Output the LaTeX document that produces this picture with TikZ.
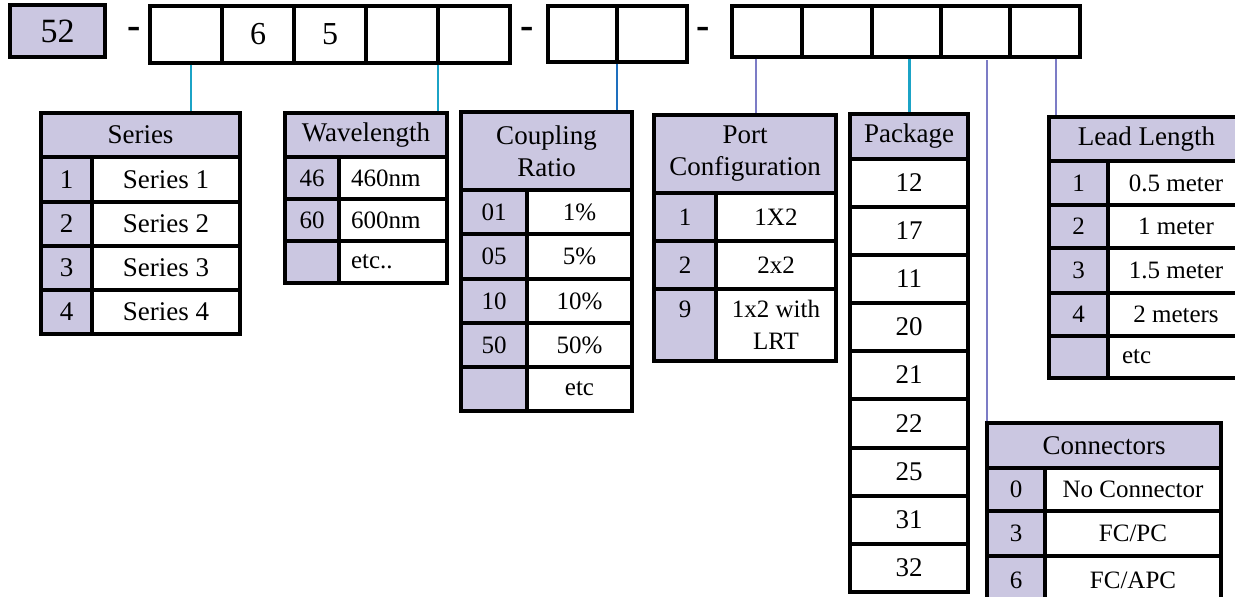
\documentclass[tikz,border=0pt]{standalone}
\usepackage{fontspec}
\setmainfont{Liberation Serif}
\definecolor{lav}{HTML}{CBC7E1}
\definecolor{tealc}{HTML}{1BA3C6}
\definecolor{bluec}{HTML}{1E6FBE}
\definecolor{purc}{HTML}{7C7CC6}
\tikzset{
 basec/.style={draw=black, line width=3.2pt, inner sep=0pt, outer sep=0pt, align=center, text=black},
 hdr/.style={basec, fill=lav, font=\fontsize{27}{32}\selectfont},
 keyc/.style={basec, fill=lav, font=\fontsize{25}{32}\selectfont},
 valc/.style={basec, fill=white, font=\fontsize{25}{32}\selectfont},
 keybig/.style={keyc, font=\fontsize{27}{32}\selectfont},
 valbig/.style={valc, font=\fontsize{27}{32}\selectfont},
 topc/.style={basec, fill=white, font=\fontsize{32}{36}\selectfont},
 topk/.style={topc, fill=lav, font=\fontsize{34}{38}\selectfont},
 dashtxt/.style={inner sep=0pt, outer sep=0pt, font=\fontsize{40}{44}\selectfont\bfseries, anchor=base},
 link/.style={line width=2.6pt, shorten <=1.6pt, shorten >=1.6pt},
}
\newcommand\mkcell[7]{\node[#1, minimum width={(#5)-(#3)}, minimum height={(#6)-(#4)}] (#2) at ({((#3)+(#5))/2},{((#4)+(#6))/2}) {#7};}
\begin{document}
\begin{tikzpicture}[x=1pt,y=-1pt]
\useasboundingbox (0,0) rectangle (1235,597);
\fill[white] (0,0) rectangle (1235,597);
\clip (0,0) rectangle (1235,597);

% top row
\mkcell{topk}{t52}{10}{5}{105}{57}{52}
\node[dashtxt] (d1) at (134,38) {-};
\mkcell{topc}{g1a}{150}{6}{222}{63}{}
\mkcell{topc}{g1b}{222}{6}{294}{63}{6}
\mkcell{topc}{g1c}{294}{6}{366}{63}{5}
\mkcell{topc}{g1d}{366}{6}{438}{63}{}
\mkcell{topc}{g1e}{438}{6}{510}{63}{}
\node[dashtxt] (d2) at (527,38) {-};
\mkcell{topc}{g2a}{548}{6}{617}{62}{}
\mkcell{topc}{g2b}{617}{6}{687}{62}{}
\node[dashtxt] (d3) at (703,38) {-};
\mkcell{topc}{g3a}{732}{6}{802}{57}{}
\mkcell{topc}{g3b}{802}{6}{872}{57}{}
\mkcell{topc}{g3c}{872}{6}{941}{57}{}
\mkcell{topc}{g3d}{941}{6}{1010}{57}{}
\mkcell{topc}{g3e}{1010}{6}{1080}{57}{}

% Series
\mkcell{hdr}{serh}{41}{113}{240}{157}{Series}
\mkcell{keybig}{serk1}{41}{157}{92}{202}{1}
\mkcell{valbig}{serv1}{92}{157}{240}{202}{Series 1}
\mkcell{keybig}{serk2}{41}{202}{92}{246}{2}
\mkcell{valbig}{serv2}{92}{202}{240}{246}{Series 2}
\mkcell{keybig}{serk3}{41}{246}{92}{290}{3}
\mkcell{valbig}{serv3}{92}{246}{240}{290}{Series 3}
\mkcell{keybig}{serk4}{41}{290}{92}{334}{4}
\mkcell{valbig}{serv4}{92}{290}{240}{334}{Series 4}

% Wavelength
\mkcell{hdr}{wvh}{285}{113}{447}{157}{Wavelength}
\mkcell{keyc}{wvk1}{285}{157}{339}{199}{46}
\mkcell{valc}{wvv1}{339}{157}{447}{199}{\makebox[100pt][l]{\hspace*{8pt}460nm}}
\mkcell{keyc}{wvk2}{285}{199}{339}{241}{60}
\mkcell{valc}{wvv2}{339}{199}{447}{241}{\makebox[100pt][l]{\hspace*{8pt}600nm}}
\mkcell{keyc}{wvk3}{285}{241}{339}{283}{}
\mkcell{valc}{wvv3}{339}{241}{447}{283}{\makebox[100pt][l]{\hspace*{8pt}etc..}}

% Coupling Ratio
\mkcell{hdr}{cph}{461}{112}{632}{190}{Coupling\\Ratio}
\mkcell{keyc}{cpk1}{461}{190}{527}{234}{01}
\mkcell{valc}{cpv1}{527}{190}{632}{234}{1\%}
\mkcell{keyc}{cpk2}{461}{234}{527}{279}{05}
\mkcell{valc}{cpv2}{527}{234}{632}{279}{5\%}
\mkcell{keyc}{cpk3}{461}{279}{527}{323}{10}
\mkcell{valc}{cpv3}{527}{279}{632}{323}{10\%}
\mkcell{keyc}{cpk4}{461}{323}{527}{367}{50}
\mkcell{valc}{cpv4}{527}{323}{632}{367}{50\%}
\mkcell{keyc}{cpk5}{461}{367}{527}{411}{}
\mkcell{valc}{cpv5}{527}{367}{632}{411}{etc}

% Port Configuration
\mkcell{hdr}{pth}{654}{115}{836}{193}{Port\\Configuration}
\mkcell{keyc}{ptk1}{654}{193}{716}{241}{1}
\mkcell{valc}{ptv1}{716}{193}{836}{241}{1X2}
\mkcell{keyc}{ptk2}{654}{241}{716}{289}{2}
\mkcell{valc}{ptv2}{716}{241}{836}{289}{2x2}
\mkcell{keyc}{ptk3}{654}{289}{716}{361}{9\\\phantom{LRT}}
\mkcell{valc}{ptv3}{716}{289}{836}{361}{1x2 with\\LRT}

% Package
\mkcell{hdr}{pkh}{850}{114}{968}{159}{Package}
\mkcell{valbig}{pk1}{850}{159}{968}{207}{12}
\mkcell{valbig}{pk2}{850}{207}{968}{255}{17}
\mkcell{valbig}{pk3}{850}{255}{968}{303}{11}
\mkcell{valbig}{pk4}{850}{303}{968}{351}{20}
\mkcell{valbig}{pk5}{850}{351}{968}{399}{21}
\mkcell{valbig}{pk6}{850}{399}{968}{448}{22}
\mkcell{valbig}{pk7}{850}{448}{968}{496}{25}
\mkcell{valbig}{pk8}{850}{496}{968}{544}{31}
\mkcell{valbig}{pk9}{850}{544}{968}{592}{32}

% Lead Length
\mkcell{hdr}{ldh}{1049}{117}{1244}{161}{Lead Length}
\mkcell{keyc}{ldk1}{1049}{161}{1108}{205}{1}
\mkcell{valc}{ldv1}{1108}{161}{1244}{205}{0.5 meter}
\mkcell{keyc}{ldk2}{1049}{205}{1108}{248}{2}
\mkcell{valc}{ldv2}{1108}{205}{1244}{248}{1 meter}
\mkcell{keyc}{ldk3}{1049}{248}{1108}{293}{3}
\mkcell{valc}{ldv3}{1108}{248}{1244}{293}{1.5 meter}
\mkcell{keyc}{ldk4}{1049}{293}{1108}{336}{4}
\mkcell{valc}{ldv4}{1108}{293}{1244}{336}{2 meters}
\mkcell{keyc}{ldk5}{1049}{336}{1108}{378}{}
\mkcell{valc}{ldv5}{1108}{336}{1244}{378}{\makebox[128pt][l]{\hspace*{10pt}etc}}

% Connectors
\mkcell{hdr}{cnh}{987}{423}{1221}{468}{Connectors}
\mkcell{keyc}{cnk1}{987}{468}{1045}{511}{0}
\mkcell{valc}{cnv1}{1045}{468}{1221}{511}{No Connector}
\mkcell{keyc}{cnk2}{987}{511}{1045}{556}{3}
\mkcell{valc}{cnv2}{1045}{511}{1221}{556}{FC/PC}
\mkcell{keyc}{cnk3}{987}{556}{1045}{604}{6}
\mkcell{valc}{cnv3}{1045}{556}{1221}{604}{FC/APC}

% links
\draw[link,tealc] ([xshift=5pt]g1a.south) -- ([xshift=5pt]g1a.south |- serh.north);
\draw[link,tealc] (g1d.south east) -- (g1d.south east |- wvh.north);
\draw[link,bluec] (g2a.south east) -- (g2a.south east |- cph.north);
\draw[link,purc] ([xshift=-11pt]g3a.south) -- ([xshift=-11pt]g3a.south |- pth.north);
\draw[link,tealc] ([xshift=3pt]g3c.south) -- ([xshift=3pt]g3c.south |- pkh.north);
\draw[link,purc,shorten >=3pt] (cnh.north west) -- (cnh.north west |- g3d.south);
\draw[link,purc] ([xshift=11pt]g3e.south) -- ([xshift=11pt]g3e.south |- ldh.north);
\end{tikzpicture}
\end{document}
